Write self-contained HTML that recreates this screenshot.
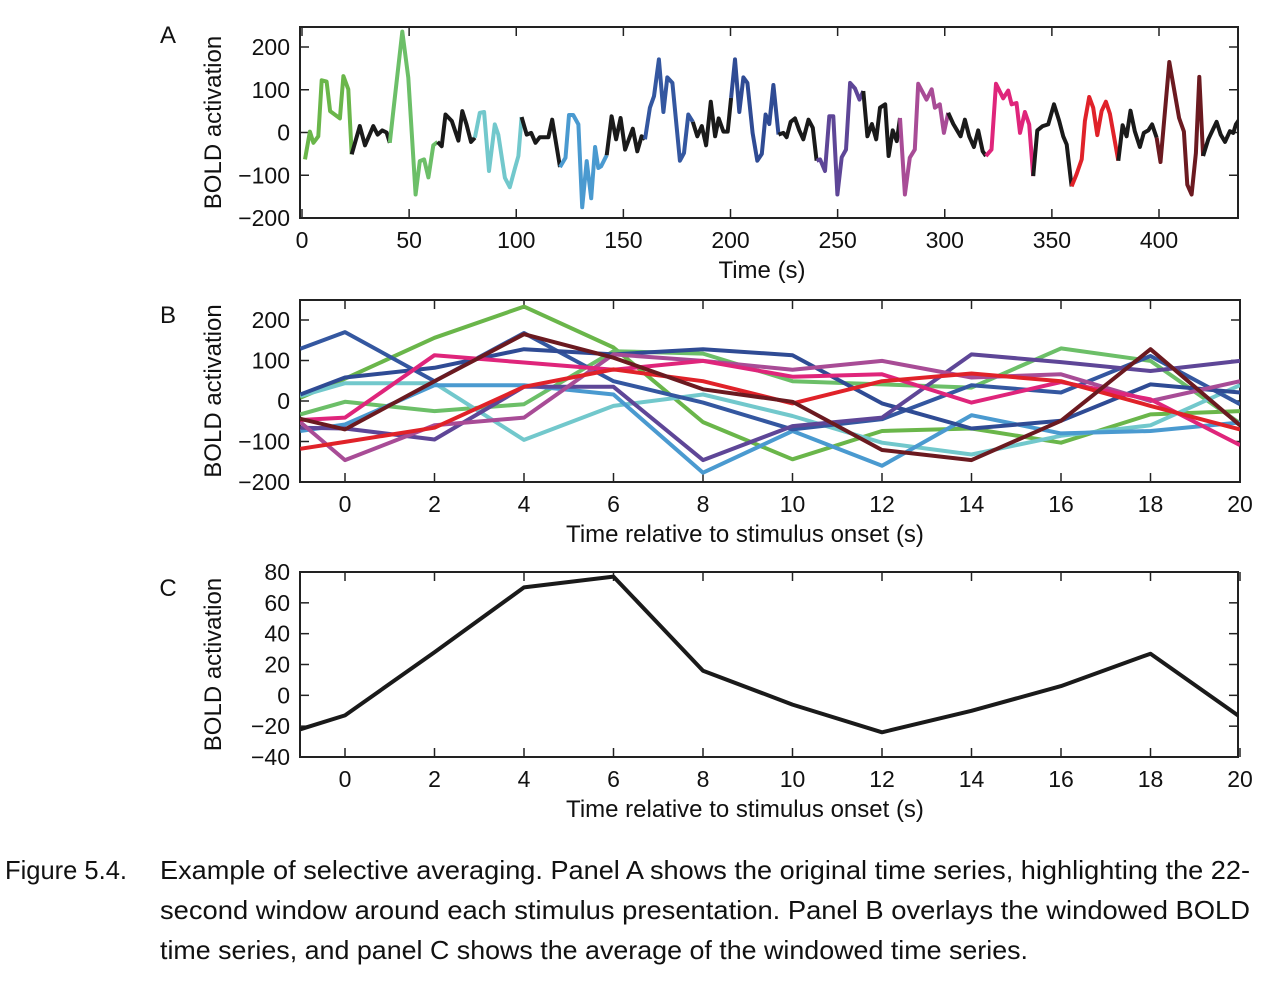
<!DOCTYPE html>
<html><head><meta charset="utf-8">
<style>
body{margin:0;background:#fff;width:1268px;height:980px;overflow:hidden}
svg{font-family:"Liberation Sans",sans-serif}
.cap{font-family:"Liberation Sans",sans-serif;font-size:26px;fill:#111}
</style></head>
<body>
<svg id="fig" width="1268" height="980" xmlns="http://www.w3.org/2000/svg">
<g id="pa"></g>
<g id="pb"></g>
<g id="pc"></g>
<text class="cap" x="5" y="879" textLength="122" lengthAdjust="spacingAndGlyphs">Figure 5.4.</text>
<text class="cap" x="160" y="879" textLength="1090" lengthAdjust="spacingAndGlyphs">Example of selective averaging. Panel A shows the original time series, highlighting the 22-</text>
<text class="cap" x="160" y="919" textLength="1090" lengthAdjust="spacingAndGlyphs">second window around each stimulus presentation. Panel B overlays the windowed BOLD</text>
<text class="cap" x="160" y="959" textLength="868" lengthAdjust="spacingAndGlyphs">time series, and panel C shows the average of the windowed time series.</text>
</svg>
<script>
var NS="http://www.w3.org/2000/svg";
var windowColors=["#6ab64a","#6cbf68","#72c8cc","#4a9ad0","#3457a0","#2f4b94","#5e4697","#a84c96","#df257b","#e02229","#6b1a20"];
var windowStarts=[0,41,80.7,120.4,160.1,200.3,240.2,279.1,319.2,359.2,398.9];
var windowEnds=[23.2,63.3,102.5,142.2,182.4,222.4,262,301.6,341.3,381,420.6];
var aTimes=[1.4,3.7,5.3,7.6,9.2,11.5,13.1,17.7,19.3,21.6,23.2,27,29.4,33.3,35.3,37.5,39.5,41,42.6,46.8,49.6,53,55,57,59,61.3,63.3,65.2,67,69.9,73,74.8,76.8,78.9,80.7,83,85,87.3,90,91.6,94.7,97,99.4,101,102.5,104.9,107,109,111,115,116.8,120.4,123,124.6,126.6,129,130.8,132.9,135,136.8,138.3,139.6,142.2,144.5,146.6,148.7,150.8,154.4,156.5,158.5,160.1,162.4,164.3,166.6,168.7,170.5,172.9,176.4,178.3,180.3,182.4,184.5,186.6,188.6,190.8,192.8,194.5,196.7,198.7,200.3,202.1,204.1,206,207.9,210.3,212.5,214.6,216.4,218.1,220,222.4,224.7,226.2,228.1,230.1,232.1,234,236.4,238.4,240.2,241.8,244.1,246.1,248,249.9,251.9,253.9,255.8,258.1,260.2,262,263.9,266,268,269.8,272.2,273.8,275.7,277.6,279.1,281.4,283.7,286,287.6,291.5,293.9,295.4,297.7,299.6,301.6,304,307.4,309.4,311.4,313.6,315.6,317.7,319.2,321.8,323.9,327.3,329.6,331.2,333.5,335.1,337.4,339.4,341.3,343.2,345.7,348.3,351,353.4,355.3,356.9,359.2,361.5,363.9,365.4,367.4,369.3,371.2,373.2,375.2,377.1,381,383,384.9,386.7,388.7,391.1,392.9,395,396.8,398.9,400.7,404.8,406.9,409.4,411.6,413.2,415.2,417.2,418.8,420.6,423,426.9,428.8,430.8,433.1,434.7,435.9,437.4];
var aValues=[-63,2,-24,-9,122,119,50,33,132,101,-51,15,-30,15,-5,5,0,-24,50,236,128,-145,-67,-63,-105,-30,-22,-32,42,27,-19,50,19,-22,-12,46,48,-90,19,-5,-106,-128,-83,-55,36,-5,-1,-24,-11,-11,30,-81,-59,41,41,19,-175,-67,-154,-34,-83,-79,-53,38,-16,34,-40,9,-44,-9,-16,58,85,171,48,129,116,-66,-48,42,25,-9,15,-30,72,-9,33,2,2,81,171,48,129,116,-1,-66,-50,42,20,111,-5,-1,-11,25,33,5,-16,30,11,-66,-63,-90,38,38,-145,-58,-40,116,103,77,97,-9,20,-16,58,66,-55,5,-20,34,-145,-59,-40,114,77,101,58,66,-1,46,20,-9,30,-9,-34,5,-44,-55,-40,114,80,98,66,69,-1,48,19,-102,5,15,19,66,27,-9,-28,-126,-98,-63,27,83,58,-6,50,72,44,-66,17,-9,51,3,-34,-1,5,19,-12,-69,165,105,34,2,-122,-145,-48,130,-55,-16,25,-5,-22,3,-1,19,30];
var aXTicks=[0,50,100,150,200,250,300,350,400];
var aYTicks=[200,100,0,-100,-200];
var bTimes=[-1,0,2,4,6,8,10,12,14,16,18,20];
var bGreen1=[8,55,156,233,132,-52,-144,-74,-68,-103,-33,-25];
var bGreen2=[-33,-2,-25,-8,123,117,49,41,33,130,99,-55];
var bCyan=[12,44,44,-96,-12,16,-37,-103,-132,-86,-60,39];
var bLightBlue=[-74,-58,39,39,16,-177,-74,-160,-35,-80,-74,-53];
var bBlue1=[129,170,49,168,49,-4,-70,-45,39,21,111,-8];
var bBlue2=[16,58,82,128,115,128,113,-6,-68,-49,41,21];
var bPurple=[-66,-68,-95,35,35,-146,-62,-41,115,96,74,99];
var bMagenta=[-52,-146,-60,-41,115,99,77,99,58,66,0,49];
var bPink=[-47,-41,113,95,77,99,60,66,-4,47,4,-109];
var bRed=[-118,-101,-66,35,78,49,-6,49,68,49,-12,-70];
var bDarkRed=[-44,-70,49,165,107,29,-2,-121,-146,-49,128,-60];
var bSeries=[bGreen1,bGreen2,bCyan,bLightBlue,bBlue1,bBlue2,bPurple,bMagenta,bPink,bRed,bDarkRed];
var relXTicks=[0,2,4,6,8,10,12,14,16,18,20];
var bYTicks=[200,100,0,-100,-200];
var cMean=[-22,-13,28,70,77,16,-6,-24,-10,6,27,-14];
var cYTicks=[80,60,40,20,0,-20,-40];

function el(tag,attrs,parent,txt){var e=document.createElementNS(NS,tag);for(var k in attrs)e.setAttribute(k,attrs[k]);if(txt!==undefined)e.textContent=txt;parent.appendChild(e);return e;}
function lin(d0,d1,r0,r1){return function(v){return r0+(v-d0)*(r1-r0)/(d1-d0);};}
function fmt(v){return v<0?"\u2212"+(-v):""+v;}

function axes(g,L,T,R,B,sx,sy,xt,yt,letter,ly,xlabel,clipId,xlx){
  el("clipPath",{id:clipId},g);
  el("rect",{x:L,y:T,width:R-L,height:B-T},g.lastChild);
  var frame=el("rect",{x:L,y:T,width:R-L,height:B-T,fill:"none",stroke:"#222","stroke-width":2},g);
  
  
  xt.forEach(function(v){var x=sx(v);
    var t1=el("line",{x1:x,y1:B,x2:x,y2:B-9,stroke:"#222","stroke-width":1.5},g);
    
    
    el("line",{x1:x,y1:T,x2:x,y2:T+9,stroke:"#222","stroke-width":1.5},g);
    var tl=el("text",{x:x,y:B+30,"text-anchor":"middle","font-size":23,fill:"#111"},g,fmt(v));
    
    
  });
  yt.forEach(function(v){var y=sy(v);
    el("line",{x1:L,y1:y,x2:L+9,y2:y,stroke:"#222","stroke-width":1.5},g);
    el("line",{x1:R,y1:y,x2:R-9,y2:y,stroke:"#222","stroke-width":1.5},g);
    var tl=el("text",{x:L-10,y:y+8,"text-anchor":"end","font-size":23,fill:"#111"},g,fmt(v));
    
    
  });
  var xl=el("text",{x:xlx,y:B+60,"text-anchor":"middle","font-size":24,fill:"#111"},g,xlabel);
  
  
  var cy=(T+B)/2;
  var yl=el("text",{x:0,y:0,transform:"translate(221,"+cy+") rotate(-90)","text-anchor":"middle","font-size":24,fill:"#111"},g,"BOLD activation");
  
  
  var pl=el("text",{x:168,y:ly,"text-anchor":"middle","font-size":24,fill:"#111"},g,letter);
  
  
}

// Panel A
(function(){
  var g=document.getElementById("pa");
  var L=300,T=27,R=1238,B=218;
  var sx=lin(0,400,302,1159), sy=lin(-200,200,218,47);
  axes(g,L,T,R,B,sx,sy,aXTicks,aYTicks,"A",43,"Time (s)","clipA",762);
  var lg=el("g",{"clip-path":"url(#clipA)"},g);
  function colorAt(t){for(var i=0;i<windowStarts.length;i++){if(t>=windowStarts[i]&&t<=windowEnds[i])return windowColors[i];}return "#1a1a1a";}
  var runs=[];var cur=null;
  for(var i=0;i<aTimes.length-1;i++){
    var c=colorAt((aTimes[i]+aTimes[i+1])/2);
    if(!cur||cur.c!==c){cur={c:c,pts:[i]};runs.push(cur);}
    cur.pts.push(i+1);
  }
  runs.forEach(function(r){
    var p=r.pts.map(function(i){return sx(aTimes[i]).toFixed(1)+","+sy(aValues[i]).toFixed(1);}).join(" ");
    var pl=el("polyline",{points:p,fill:"none",stroke:r.c,"stroke-width":4,"stroke-linejoin":"round"},lg);
    
    
  });
})();

// Panel B
(function(){
  var g=document.getElementById("pb");
  var L=300,T=300,R=1240,B=482;
  var sx=lin(0,20,345,1240), sy=lin(-200,200,482,320);
  axes(g,L,T,R,B,sx,sy,relXTicks,bYTicks,"B",323,"Time relative to stimulus onset (s)","clipB",745);
  var lg=el("g",{"clip-path":"url(#clipB)"},g);
  bSeries.forEach(function(s,k){
    var p=s.map(function(v,i){return sx(bTimes[i]).toFixed(1)+","+sy(v).toFixed(1);}).join(" ");
    var pl=el("polyline",{points:p,fill:"none",stroke:windowColors[k],"stroke-width":4,"stroke-linejoin":"round"},lg);
    
    
  });
})();

// Panel C
(function(){
  var g=document.getElementById("pc");
  var L=300,T=572,R=1238,B=757;
  var sx=lin(0,20,345,1240), sy=lin(-40,80,757,572);
  axes(g,L,T,R,B,sx,sy,relXTicks,cYTicks,"C",596,"Time relative to stimulus onset (s)","clipC",745);
  var lg=el("g",{"clip-path":"url(#clipC)"},g);
  var p=cMean.map(function(v,i){return sx(bTimes[i]).toFixed(1)+","+sy(v).toFixed(1);}).join(" ");
  var pl=el("polyline",{points:p,fill:"none",stroke:"#1a1a1a","stroke-width":4,"stroke-linejoin":"round"},lg);
  
  
})();
</script>
</body></html>
